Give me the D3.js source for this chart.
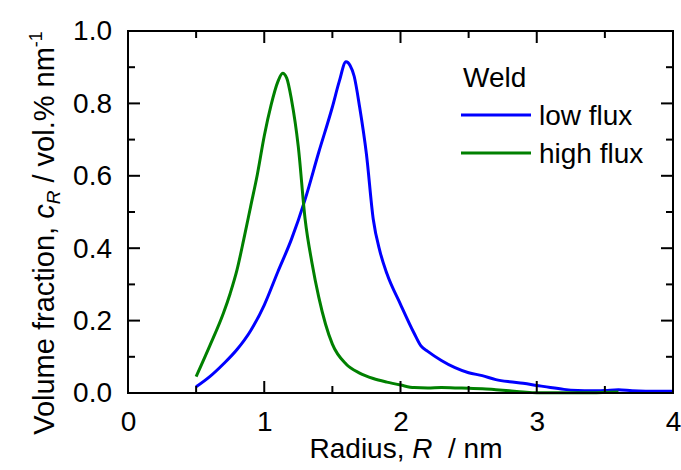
<!DOCTYPE html>
<html>
<head>
<meta charset="utf-8">
<script src="https://cdn.jsdelivr.net/npm/d3@7"></script>
<style>
  body { margin: 0; background: #fff; }
  svg { display: block; font-family: "Liberation Sans", Arial, sans-serif; }
  .axis text { font-size: 28px; fill: #000; font-family: "Liberation Sans", Arial, sans-serif; }
</style>
</head>
<body>
<svg width="681" height="470"></svg>
<script>
// radius (nm)
var lowR = [0.5, 0.6, 0.7, 0.8, 0.9, 1.0, 1.1, 1.2, 1.3, 1.4, 1.5, 1.55, 1.6, 1.63, 1.66, 1.7, 1.75, 1.8, 1.85, 1.9, 2.0, 2.1, 2.15, 2.2, 2.3, 2.4, 2.5, 2.6, 2.7, 2.8, 2.9, 3.0, 3.1, 3.2, 3.3, 3.4, 3.5, 3.6, 3.7, 3.8, 4.0];
var lowFlux = [0.017, 0.045, 0.08, 0.12, 0.172, 0.243, 0.335, 0.425, 0.535, 0.665, 0.79, 0.86, 0.915, 0.905, 0.875, 0.79, 0.66, 0.48, 0.39, 0.33, 0.245, 0.165, 0.13, 0.115, 0.09, 0.07, 0.056, 0.048, 0.037, 0.031, 0.027, 0.021, 0.015, 0.01, 0.007, 0.006, 0.007, 0.009, 0.006, 0.005, 0.005];

var highR = [0.5, 0.6, 0.7, 0.75, 0.8, 0.85, 0.9, 0.95, 1.0, 1.05, 1.1, 1.135, 1.165, 1.2, 1.25, 1.3, 1.35, 1.4, 1.45, 1.5, 1.6, 1.7, 1.8, 1.9, 2.0, 2.1, 2.2, 2.3, 2.4, 2.5, 2.6, 2.7, 2.8, 2.9, 3.0, 3.2, 3.4, 3.6];
var highFlux = [0.045, 0.13, 0.22, 0.275, 0.34, 0.425, 0.515, 0.605, 0.71, 0.795, 0.86, 0.883, 0.87, 0.81, 0.68, 0.48, 0.36, 0.265, 0.19, 0.135, 0.08, 0.055, 0.04, 0.03, 0.022, 0.015, 0.014, 0.015, 0.014, 0.013, 0.012, 0.009, 0.006, 0.003, 0.001, 0.001, 0.001, 0.003];

var xMajor = [0, 1, 2, 3, 4];
var xMinor = [0.5, 1.5, 2.5, 3.5];
var yMajor = [0, 0.2, 0.4, 0.6, 0.8, 1.0];
var yMinor = [0.1, 0.3, 0.5, 0.7, 0.9];

var series = [
  { name: "low flux", r: lowR, v: lowFlux, color: "#0000ff" },
  { name: "high flux", r: highR, v: highFlux, color: "#008000" }
];

var svg = d3.select("svg");
var pLeft = 128, pRight = 673, pTop = 31, pBottom = 393;

var x = d3.scaleLinear().domain([0, 4]).range([pLeft, pRight]);
var y = d3.scaleLinear().domain([0, 1]).range([pBottom, pTop]);

// curves
var line = d3.line()
  .x(function(d) { return x(d[0]); })
  .y(function(d) { return y(d[1]); })
  .curve(d3.curveMonotoneX);

series.forEach(function(s) {
  svg.append("path")
    .datum(d3.zip(s.r, s.v))
    .attr("d", line)
    .attr("fill", "none")
    .attr("stroke", s.color)
    .attr("stroke-width", 3)
    .attr("stroke-linejoin", "round");
});

// tick labels from d3 axes
var xAxis = svg.append("g").attr("class", "axis")
  .attr("transform", "translate(0," + pBottom + ")")
  .call(d3.axisBottom(x).tickValues(xMajor).tickSize(0).tickPadding(18).tickFormat(d3.format("d")));
xAxis.select(".domain").remove();
var yAxis = svg.append("g").attr("class", "axis")
  .attr("transform", "translate(" + pLeft + ",0)")
  .call(d3.axisLeft(y).tickValues(yMajor).tickSize(0).tickPadding(16).tickFormat(d3.format(".1f")));
yAxis.select(".domain").remove();

// frame
svg.append("rect")
  .attr("x", pLeft).attr("y", pTop)
  .attr("width", pRight - pLeft).attr("height", pBottom - pTop)
  .attr("fill", "none").attr("stroke", "#000").attr("stroke-width", 2);

// inward ticks on all four sides
var ticks = svg.append("g").attr("stroke", "#000").attr("stroke-width", 2);
function xTicks(vals, len) {
  vals.forEach(function(v) {
    ticks.append("line").attr("x1", x(v)).attr("x2", x(v)).attr("y1", pBottom).attr("y2", pBottom - len);
    ticks.append("line").attr("x1", x(v)).attr("x2", x(v)).attr("y1", pTop).attr("y2", pTop + len);
  });
}
function yTicks(vals, len) {
  vals.forEach(function(v) {
    ticks.append("line").attr("y1", y(v)).attr("y2", y(v)).attr("x1", pLeft).attr("x2", pLeft + len);
    ticks.append("line").attr("y1", y(v)).attr("y2", y(v)).attr("x1", pRight).attr("x2", pRight - len);
  });
}
xTicks(xMajor, 12);
xTicks(xMinor, 7);
yTicks(yMajor, 12);
yTicks(yMinor, 7);

// x title
var xt = svg.append("text")
  .attr("x", 406).attr("y", 458)
  .attr("text-anchor", "middle")
  .attr("font-size", 28)
  .attr("xml:space", "preserve");
xt.append("tspan").text("Radius, ");
xt.append("tspan").attr("font-style", "italic").text("R");
xt.append("tspan").text("  / nm");

// y title
var yt = svg.append("text")
  .attr("transform", "translate(54,233) rotate(-90)")
  .attr("text-anchor", "middle")
  .attr("font-size", 29);
yt.append("tspan").text("Volume fraction, ");
yt.append("tspan").attr("font-style", "italic").text("c");
yt.append("tspan").attr("font-style", "italic").attr("font-size", 19).attr("dy", 6).text("R");
yt.append("tspan").attr("dy", -6).text(" / vol.% nm");
yt.append("tspan").attr("font-size", 18).attr("dy", -12).text("-1");

// legend
svg.append("text")
  .attr("x", 463).attr("y", 87)
  .attr("font-size", 28)
  .text("Weld");

var legend = svg.append("g").selectAll("g")
  .data(series)
  .enter().append("g")
  .attr("transform", function(d, i) { return "translate(461," + (115 + i * 38) + ")"; });
legend.append("line")
  .attr("x1", 0).attr("x2", 70)
  .attr("stroke", function(d) { return d.color; })
  .attr("stroke-width", 3);
legend.append("text")
  .attr("x", 78).attr("y", 10)
  .attr("font-size", 28)
  .text(function(d) { return d.name; });
</script>
</body>
</html>
